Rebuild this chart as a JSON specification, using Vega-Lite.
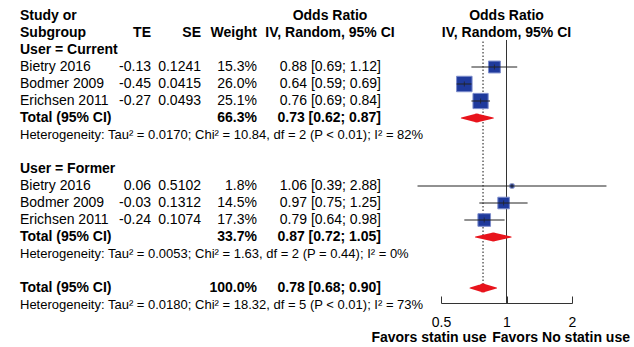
{
  "$schema": "https://vega.github.io/schema/vega-lite/v6.json",
  "width": 634,
  "height": 303,
  "autosize": "none",
  "padding": {"left": 0, "top": 0, "right": 0, "bottom": 44},
  "background": "white",
  "config": {
    "view": {"stroke": null},
    "font": "Liberation Sans",
    "locale": {"number": {"decimal": ".", "thousands": ",", "grouping": [3], "currency": ["$", ""], "minus": "-"}},
    "text": {"font": "Liberation Sans", "fontSize": 14, "color": "black", "baseline": "middle"}
  },
  "datasets": {
    "rows": [
      {"row": 2, "kind": "group", "label": "User = Current"},
      {"row": 3, "kind": "study", "label": "Bietry 2016", "te": -0.13, "se": 0.1241, "weight": 0.153, "or": 0.88, "lo": 0.69, "hi": 1.12, "ci": "0.88 [0.69; 1.12]"},
      {"row": 4, "kind": "study", "label": "Bodmer 2009", "te": -0.45, "se": 0.0415, "weight": 0.26, "or": 0.64, "lo": 0.59, "hi": 0.69, "ci": "0.64 [0.59; 0.69]"},
      {"row": 5, "kind": "study", "label": "Erichsen 2011", "te": -0.27, "se": 0.0493, "weight": 0.251, "or": 0.76, "lo": 0.69, "hi": 0.84, "ci": "0.76 [0.69; 0.84]"},
      {"row": 6, "kind": "total", "label": "Total (95% CI)", "weight": 0.663, "or": 0.73, "lo": 0.62, "hi": 0.87, "ci": "0.73 [0.62; 0.87]"},
      {"row": 7, "kind": "het", "label": "Heterogeneity: Tau² = 0.0170; Chi² = 10.84, df = 2 (P < 0.01); I² = 82%"},
      {"row": 9, "kind": "group", "label": "User = Former"},
      {"row": 10, "kind": "study", "label": "Bietry 2016", "te": 0.06, "se": 0.5102, "weight": 0.018, "or": 1.06, "lo": 0.39, "hi": 2.88, "ci": "1.06 [0.39; 2.88]"},
      {"row": 11, "kind": "study", "label": "Bodmer 2009", "te": -0.03, "se": 0.1312, "weight": 0.145, "or": 0.97, "lo": 0.75, "hi": 1.25, "ci": "0.97 [0.75; 1.25]"},
      {"row": 12, "kind": "study", "label": "Erichsen 2011", "te": -0.24, "se": 0.1074, "weight": 0.173, "or": 0.79, "lo": 0.64, "hi": 0.98, "ci": "0.79 [0.64; 0.98]"},
      {"row": 13, "kind": "total", "label": "Total (95% CI)", "weight": 0.337, "or": 0.87, "lo": 0.72, "hi": 1.05, "ci": "0.87 [0.72; 1.05]"},
      {"row": 14, "kind": "het", "label": "Heterogeneity: Tau² = 0.0053; Chi² = 1.63, df = 2 (P = 0.44); I² = 0%"},
      {"row": 16, "kind": "overall", "label": "Total (95% CI)", "weight": 1.0, "or": 0.78, "lo": 0.68, "hi": 0.90, "ci": "0.78 [0.68; 0.90]"},
      {"row": 17, "kind": "het", "label": "Heterogeneity: Tau² = 0.0180; Chi² = 18.32, df = 5 (P < 0.01); I² = 73%"}
    ],
    "headers": [
      {"row": 0, "study": "Study or", "orHead": "Odds Ratio"},
      {"row": 1, "study": "Subgroup", "te": "TE", "se": "SE", "weight": "Weight", "orHead": "IV, Random, 95% CI"}
    ]
  },
  "data": {"name": "rows"},
  "layer": [
    {
      "data": {"values": [{"ref": 1}]},
      "mark": {"type": "rule", "color": "#333333", "strokeWidth": 1},
      "encoding": {
        "x": {"field": "ref", "type": "quantitative",
          "scale": {"type": "log", "domain": [0.5, 2], "range": [441, 572], "nice": false, "zero": false},
          "axis": {"values": [0.5, 1, 2], "format": "~g", "title": null, "grid": false,
            "domainColor": "#333333", "tickColor": "#333333", "tickSize": -7, "labelPadding": 19,
            "labelFontSize": 14, "labelFont": "Liberation Sans", "labelColor": "black", "labelFlush": false}},
        "y": {"datum": 1.41, "type": "quantitative",
          "scale": {"domain": [0, 17], "range": [16, 305], "nice": false, "zero": false}, "axis": null},
        "y2": {"datum": 16.88}
      }
    },
    {
      "transform": [{"filter": "datum.kind == 'overall'"}],
      "mark": {"type": "rule", "color": "#111111", "strokeWidth": 1, "strokeDash": [1.5, 2]},
      "encoding": {
        "x": {"field": "or", "type": "quantitative"},
        "y": {"field": "row", "type": "quantitative"},
        "y2": {"datum": 1.5}
      }
    },
    {
      "transform": [{"filter": "datum.kind == 'study'"}],
      "mark": {"type": "square", "filled": true, "color": "#1f3a9c", "stroke": "#7d8dcc", "strokeWidth": 1, "opacity": 1},
      "encoding": {
        "x": {"field": "or", "type": "quantitative"},
        "y": {"field": "row", "type": "quantitative"},
        "size": {"field": "weight", "type": "quantitative", "scale": {"type": "linear", "domain": [0, 0.26], "range": [0, 240], "zero": true}, "legend": null}
      }
    },
    {
      "transform": [{"filter": "datum.kind == 'study'"}],
      "mark": {"type": "rule", "color": "#222222", "strokeWidth": 1},
      "encoding": {
        "x": {"field": "lo", "type": "quantitative"},
        "x2": {"field": "hi"},
        "y": {"field": "row", "type": "quantitative"}
      }
    },
    {
      "transform": [{"filter": "datum.kind == 'study'"}],
      "mark": {"type": "tick", "orient": "vertical", "size": 5, "thickness": 1, "color": "#222222"},
      "encoding": {
        "x": {"field": "or", "type": "quantitative"},
        "y": {"field": "row", "type": "quantitative"}
      }
    },
    {
      "transform": [
        {"filter": "datum.kind == 'total' || datum.kind == 'overall'"},
        {"fold": ["lo", "or", "hi"], "as": ["k", "v"]}
      ],
      "mark": {"type": "trail", "color": "#e8141c"},
      "encoding": {
        "x": {"field": "v", "type": "quantitative"},
        "y": {"field": "row", "type": "quantitative"},
        "size": {"condition": {"test": "datum.k == 'or'", "value": 9}, "value": 0},
        "detail": {"field": "row", "type": "nominal"},
        "order": {"field": "v", "type": "quantitative"}
      }
    },
    {
      "data": {"name": "headers"},
      "mark": {"type": "text", "align": "left", "fontWeight": "bold"},
      "encoding": {"x": {"value": 20}, "y": {"field": "row", "type": "quantitative"}, "text": {"field": "study"}}
    },
    {
      "data": {"name": "headers"},
      "transform": [{"filter": "datum.te != null"}],
      "mark": {"type": "text", "align": "right", "fontWeight": "bold"},
      "encoding": {"x": {"value": 151}, "y": {"field": "row", "type": "quantitative"}, "text": {"field": "te"}}
    },
    {
      "data": {"name": "headers"},
      "transform": [{"filter": "datum.se != null"}],
      "mark": {"type": "text", "align": "right", "fontWeight": "bold"},
      "encoding": {"x": {"value": 201}, "y": {"field": "row", "type": "quantitative"}, "text": {"field": "se"}}
    },
    {
      "data": {"name": "headers"},
      "transform": [{"filter": "datum.weight != null"}],
      "mark": {"type": "text", "align": "right", "fontWeight": "bold"},
      "encoding": {"x": {"value": 257}, "y": {"field": "row", "type": "quantitative"}, "text": {"field": "weight"}}
    },
    {
      "data": {"name": "headers"},
      "mark": {"type": "text", "align": "center", "fontWeight": "bold"},
      "encoding": {"x": {"value": 330}, "y": {"field": "row", "type": "quantitative"}, "text": {"field": "orHead"}}
    },
    {
      "data": {"name": "headers"},
      "mark": {"type": "text", "align": "center", "fontWeight": "bold"},
      "encoding": {"x": {"datum": 1, "type": "quantitative"}, "y": {"field": "row", "type": "quantitative"}, "text": {"field": "orHead"}}
    },
    {
      "transform": [{"filter": "datum.kind == 'group' || datum.kind == 'total' || datum.kind == 'overall'"}],
      "mark": {"type": "text", "align": "left", "fontWeight": "bold"},
      "encoding": {"x": {"value": 20}, "y": {"field": "row", "type": "quantitative"}, "text": {"field": "label"}}
    },
    {
      "transform": [{"filter": "datum.kind == 'study'"}],
      "mark": {"type": "text", "align": "left"},
      "encoding": {"x": {"value": 20}, "y": {"field": "row", "type": "quantitative"}, "text": {"field": "label"}}
    },
    {
      "transform": [{"filter": "datum.kind == 'study'"}],
      "mark": {"type": "text", "align": "right"},
      "encoding": {"x": {"value": 151}, "y": {"field": "row", "type": "quantitative"}, "text": {"field": "te", "type": "quantitative", "format": ".2f"}}
    },
    {
      "transform": [{"filter": "datum.kind == 'study'"}],
      "mark": {"type": "text", "align": "right"},
      "encoding": {"x": {"value": 201}, "y": {"field": "row", "type": "quantitative"}, "text": {"field": "se", "type": "quantitative", "format": ".4f"}}
    },
    {
      "transform": [{"filter": "datum.kind == 'study'"}],
      "mark": {"type": "text", "align": "right"},
      "encoding": {"x": {"value": 257}, "y": {"field": "row", "type": "quantitative"}, "text": {"field": "weight", "type": "quantitative", "format": ".1%"}}
    },
    {
      "transform": [{"filter": "datum.kind == 'study'"}],
      "mark": {"type": "text", "align": "right"},
      "encoding": {"x": {"value": 381}, "y": {"field": "row", "type": "quantitative"}, "text": {"field": "ci"}}
    },
    {
      "transform": [{"filter": "datum.kind == 'total' || datum.kind == 'overall'"}],
      "mark": {"type": "text", "align": "right", "fontWeight": "bold"},
      "encoding": {"x": {"value": 257}, "y": {"field": "row", "type": "quantitative"}, "text": {"field": "weight", "type": "quantitative", "format": ".1%"}}
    },
    {
      "transform": [{"filter": "datum.kind == 'total' || datum.kind == 'overall'"}],
      "mark": {"type": "text", "align": "right", "fontWeight": "bold"},
      "encoding": {"x": {"value": 381}, "y": {"field": "row", "type": "quantitative"}, "text": {"field": "ci"}}
    },
    {
      "transform": [{"filter": "datum.kind == 'het'"}],
      "mark": {"type": "text", "align": "left", "fontSize": 13},
      "encoding": {"x": {"value": 20}, "y": {"field": "row", "type": "quantitative"}, "text": {"field": "label"}}
    },
    {
      "data": {"values": [{"side": "Favors statin use"}]},
      "mark": {"type": "text", "align": "right", "fontWeight": "bold"},
      "encoding": {"x": {"datum": 0.81, "type": "quantitative"}, "y": {"datum": 18.95, "type": "quantitative"}, "text": {"field": "side"}}
    },
    {
      "data": {"values": [{"side": "Favors No statin use"}]},
      "mark": {"type": "text", "align": "left", "fontWeight": "bold"},
      "encoding": {"x": {"datum": 0.86, "type": "quantitative"}, "y": {"datum": 18.95, "type": "quantitative"}, "text": {"field": "side"}}
    }
  ]
}
